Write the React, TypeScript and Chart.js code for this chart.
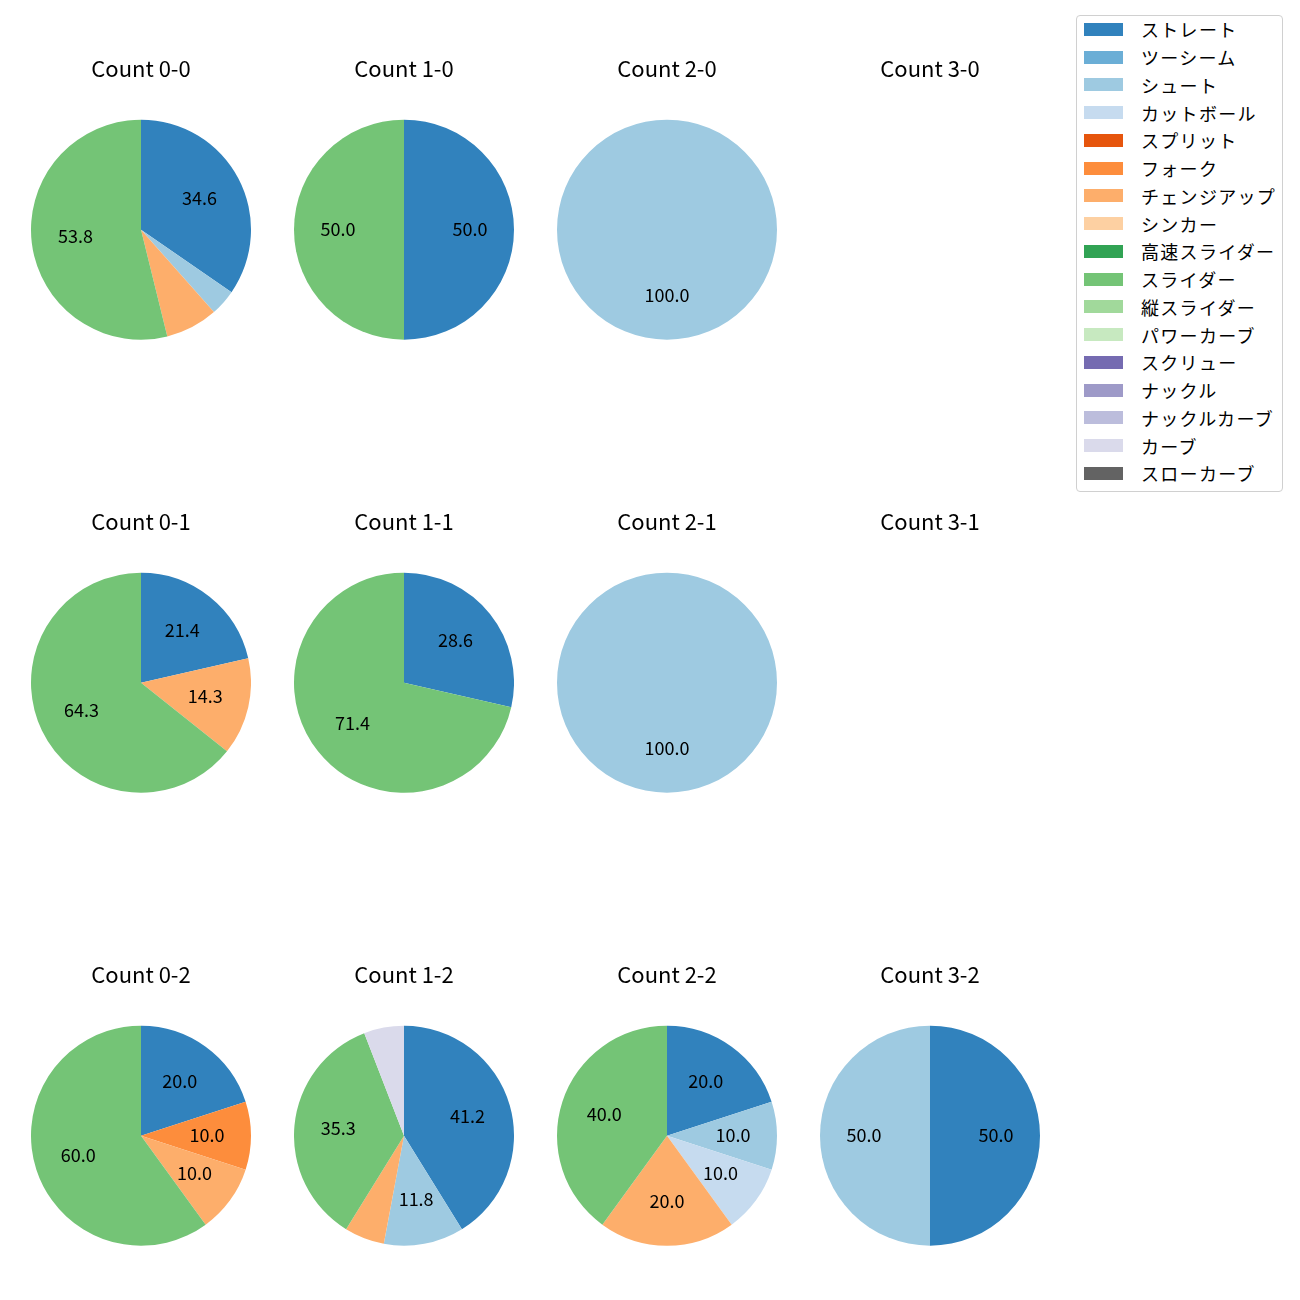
import React, { useEffect, useRef } from "react";
import { Chart, registerables } from "chart.js";

Chart.register(...registerables);

const pitchTypes = [
  "ストレート", "ツーシーム", "シュート", "カットボール", "スプリット", "フォーク",
  "チェンジアップ", "シンカー", "高速スライダー", "スライダー", "縦スライダー",
  "パワーカーブ", "スクリュー", "ナックル", "ナックルカーブ", "カーブ", "スローカーブ",
];

const pitchColors = [
  "#3182bd", "#6baed6", "#9ecae1", "#c6dbef", "#e6550d", "#fd8d3c",
  "#fdae6b", "#fdd0a2", "#31a354", "#74c476", "#a1d99b", "#c7e9c0",
  "#756bb1", "#9e9ac8", "#bcbddc", "#dadaeb", "#636363",
];

// pitch counts per ball-strike count (order = pitchTypes)
const count00 = [9, 0, 1, 0, 0, 0, 2, 0, 0, 14, 0, 0, 0, 0, 0, 0, 0];
const count10 = [1, 0, 0, 0, 0, 0, 0, 0, 0, 1, 0, 0, 0, 0, 0, 0, 0];
const count20 = [0, 0, 1, 0, 0, 0, 0, 0, 0, 0, 0, 0, 0, 0, 0, 0, 0];
const count30 = [0, 0, 0, 0, 0, 0, 0, 0, 0, 0, 0, 0, 0, 0, 0, 0, 0];
const count01 = [3, 0, 0, 0, 0, 0, 2, 0, 0, 9, 0, 0, 0, 0, 0, 0, 0];
const count11 = [2, 0, 0, 0, 0, 0, 0, 0, 0, 5, 0, 0, 0, 0, 0, 0, 0];
const count21 = [0, 0, 1, 0, 0, 0, 0, 0, 0, 0, 0, 0, 0, 0, 0, 0, 0];
const count31 = [0, 0, 0, 0, 0, 0, 0, 0, 0, 0, 0, 0, 0, 0, 0, 0, 0];
const count02 = [2, 0, 0, 0, 0, 1, 1, 0, 0, 6, 0, 0, 0, 0, 0, 0, 0];
const count12 = [7, 0, 2, 0, 0, 0, 1, 0, 0, 6, 0, 0, 0, 0, 0, 1, 0];
const count22 = [2, 0, 1, 1, 0, 0, 2, 0, 0, 4, 0, 0, 0, 0, 0, 0, 0];
const count32 = [1, 0, 1, 0, 0, 0, 0, 0, 0, 0, 0, 0, 0, 0, 0, 0, 0];

const panelTitles = [
  "Count 0-0", "Count 1-0", "Count 2-0", "Count 3-0",
  "Count 0-1", "Count 1-1", "Count 2-1", "Count 3-1",
  "Count 0-2", "Count 1-2", "Count 2-2", "Count 3-2",
];
const panelData = [
  count00, count10, count20, count30,
  count01, count11, count21, count31,
  count02, count12, count22, count32,
];

const FONT = "'Noto Sans CJK JP', 'Noto Sans', sans-serif";
const colCenters = [141, 404, 667, 930];
const rowCenters = [229, 682, 1135];
const R = 110;
const TITLE_SIZE = 22;
const TITLE_PAD = 38;
const CANVAS_W = 220;
const CANVAS_H = 285;

const pctLabelPlugin = {
  id: "pctLabels",
  afterDatasetsDraw(chart: any) {
    const ctx = chart.ctx;
    const meta = chart.getDatasetMeta(0);
    const values: number[] = chart.data.datasets[0].data;
    const total = values.reduce((a, b) => a + b, 0);
    if (!total) return;
    ctx.save();
    ctx.font = `18px ${FONT}`;
    ctx.fillStyle = "#000";
    ctx.textAlign = "center";
    ctx.textBaseline = "middle";
    meta.data.forEach((arc: any, i: number) => {
      const v = values[i];
      const pct = (v / total) * 100;
      if (pct < 9.5) return;
      const p = arc.getProps(["x", "y", "startAngle", "endAngle", "outerRadius"], true);
      const mid = (p.startAngle + p.endAngle) / 2;
      const r = p.outerRadius * 0.6;
      ctx.fillText(pct.toFixed(1), p.x + Math.cos(mid) * r, p.y + Math.sin(mid) * r - 1);
    });
    ctx.restore();
  },
};

function PiePanel({ title, values, left, top }: { title: string; values: number[]; left: number; top: number }) {
  const ref = useRef<HTMLCanvasElement>(null);
  useEffect(() => {
    if (!ref.current) return;
    const chart = new Chart(ref.current, {
      type: "pie",
      data: {
        labels: pitchTypes,
        datasets: [
          {
            data: values,
            backgroundColor: pitchColors,
            borderWidth: 0,
          },
        ],
      },
      options: {
        responsive: false,
        animation: false,
        events: [],
        layout: { padding: 0 },
        plugins: {
          legend: { display: false },
          tooltip: { enabled: false },
          title: {
            display: true,
            text: title,
            color: "#000",
            font: { family: FONT, size: TITLE_SIZE, weight: "normal" as any, lineHeight: 1.2 },
            padding: { top: 0, bottom: TITLE_PAD },
          },
        },
      },
      plugins: [pctLabelPlugin],
    });
    return () => chart.destroy();
  }, [title, values]);
  return (
    <canvas
      ref={ref}
      width={CANVAS_W}
      height={CANVAS_H}
      style={{ position: "absolute", left, top, width: CANVAS_W, height: CANVAS_H }}
    />
  );
}

export default function App() {
  const legendTop = 15;
  const itemGap = 27.75;
  return (
    <div style={{ position: "absolute", left: 0, top: 0, width: 1300, height: 1300, background: "#fff" }}>
      {panelTitles.map((t, i) => {
        const cx = colCenters[i % 4];
        const cy = rowCenters[Math.floor(i / 4)];
        return (
          <PiePanel
            key={t}
            title={t}
            values={panelData[i]}
            left={cx - CANVAS_W / 2}
            top={Math.round(cy - R - TITLE_PAD - TITLE_SIZE * 1.2)}
          />
        );
      })}
      <div
        style={{
          position: "absolute",
          left: 1076,
          top: legendTop,
          width: 205,
          height: 475,
          border: "1px solid #d0d0d0",
          borderRadius: 4,
          background: "#fff",
          fontFamily: FONT,
          fontSize: 18,
        }}
      >
        {pitchTypes.map((name, i) => (
          <div
            key={name}
            style={{
              position: "absolute",
              left: 0,
              top: 29.3 - legendTop - 1 + i * itemGap - 12,
              height: 24,
              display: "flex",
              alignItems: "center",
              whiteSpace: "nowrap",
            }}
          >
            <span
              style={{
                display: "inline-block",
                marginLeft: 7,
                width: 39,
                height: 13,
                background: pitchColors[i],
              }}
            />
            <span style={{ marginLeft: 18, color: "#000", lineHeight: "24px", letterSpacing: "1.3px" }}>{name}</span>
          </div>
        ))}
      </div>
    </div>
  );
}
